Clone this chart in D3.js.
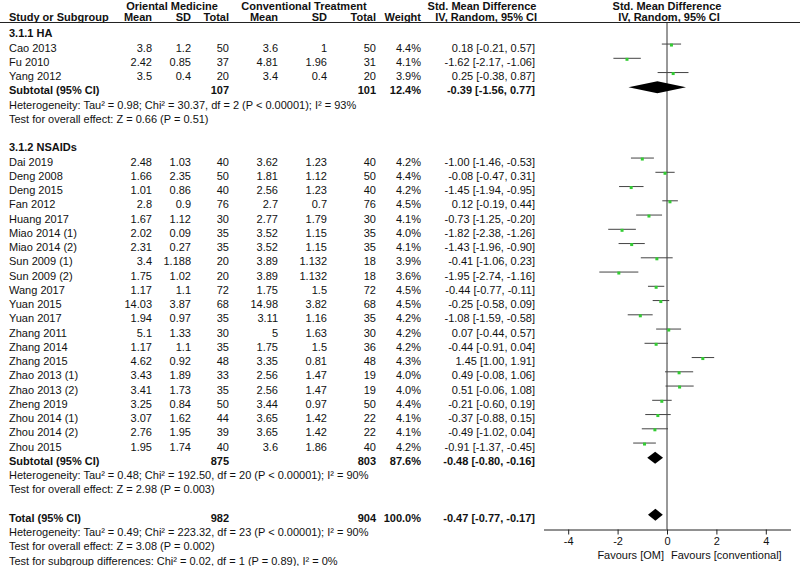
<!DOCTYPE html>
<html><head><meta charset="utf-8">
<script src="https://cdn.jsdelivr.net/npm/d3@7"></script>
<style>
body{margin:0;background:#fff;}
svg text{font-family:"Liberation Sans",Arial,sans-serif;font-size:11px;fill:#111;}
</style></head>
<body>
<svg id="c" width="800" height="566"></svg>
<script>
// ---------- DATA ----------
const haStudies = ["Cao 2013","Fu 2010","Yang 2012"];
const haOmMean = [3.8,2.42,3.5];
const haOmSD = [1.2,0.85,0.4];
const haOmN = [50,37,20];
const haCvMean = [3.6,4.81,3.4];
const haCvSD = [1,1.96,0.4];
const haCvN = [50,31,20];
const haWeight = [4.4,4.1,3.9];
const haSMD = [0.18,-1.62,0.25];
const haLo = [-0.21,-2.17,-0.38];
const haHi = [0.57,-1.06,0.87];

const nsStudies = ["Dai 2019","Deng 2008","Deng 2015","Fan 2012","Huang 2017","Miao 2014 (1)","Miao 2014 (2)","Sun 2009 (1)","Sun 2009 (2)","Wang 2017","Yuan 2015","Yuan 2017","Zhang 2011","Zhang 2014","Zhang 2015","Zhao 2013 (1)","Zhao 2013 (2)","Zheng 2019","Zhou 2014 (1)","Zhou 2014 (2)","Zhou 2015"];
const nsOmMean = [2.48,1.66,1.01,2.8,1.67,2.02,2.31,3.4,1.75,1.17,14.03,1.94,5.1,1.17,4.62,3.43,3.41,3.25,3.07,2.76,1.95];
const nsOmSD = [1.03,2.35,0.86,0.9,1.12,0.09,0.27,1.188,1.02,1.1,3.87,0.97,1.33,1.1,0.92,1.89,1.73,0.84,1.62,1.95,1.74];
const nsOmN = [40,50,40,76,30,35,35,20,20,72,68,35,30,35,48,33,35,50,44,39,40];
const nsCvMean = [3.62,1.81,2.56,2.7,2.77,3.52,3.52,3.89,3.89,1.75,14.98,3.11,5,1.75,3.35,2.56,2.56,3.44,3.65,3.65,3.6];
const nsCvSD = [1.23,1.12,1.23,0.7,1.79,1.15,1.15,1.132,1.132,1.5,3.82,1.16,1.63,1.5,0.81,1.47,1.47,0.97,1.42,1.42,1.86];
const nsCvN = [40,50,40,76,30,35,35,18,18,72,68,35,30,36,48,19,19,50,22,22,40];
const nsWeight = [4.2,4.4,4.2,4.5,4.1,4.0,4.1,3.9,3.6,4.5,4.5,4.2,4.2,4.2,4.3,4.0,4.0,4.4,4.1,4.1,4.2];
const nsSMD = [-1.00,-0.08,-1.45,0.12,-0.73,-1.82,-1.43,-0.41,-1.95,-0.44,-0.25,-1.08,0.07,-0.44,1.45,0.49,0.51,-0.21,-0.37,-0.49,-0.91];
const nsLo = [-1.46,-0.47,-1.94,-0.19,-1.25,-2.38,-1.96,-1.06,-2.74,-0.77,-0.58,-1.59,-0.44,-0.91,1.00,-0.08,-0.06,-0.60,-0.88,-1.02,-1.37];
const nsHi = [-0.53,0.31,-0.95,0.44,-0.20,-1.26,-0.90,0.23,-1.16,-0.11,0.09,-0.58,0.57,0.04,1.91,1.06,1.08,0.19,0.15,0.04,-0.45];

const subLabels = ["Subtotal (95% CI)","Subtotal (95% CI)","Total (95% CI)"];
const subOmN = [107,875,982];
const subCvN = [101,803,904];
const subWeight = [12.4,87.6,100.0];
const subSMD = [-0.39,-0.48,-0.47];
const subLo = [-1.56,-0.80,-0.77];
const subHi = [0.77,-0.16,-0.17];

const groupLabels = ["3.1.1 HA","3.1.2 NSAIDs"];
const hetText = [
 "Heterogeneity: Tau² = 0.98; Chi² = 30.37, df = 2 (P < 0.00001); I² = 93%",
 "Heterogeneity: Tau² = 0.48; Chi² = 192.50, df = 20 (P < 0.00001); I² = 90%",
 "Heterogeneity: Tau² = 0.49; Chi² = 223.32, df = 23 (P < 0.00001); I² = 90%"];
const effectText = [
 "Test for overall effect: Z = 0.66 (P = 0.51)",
 "Test for overall effect: Z = 2.98 (P = 0.003)",
 "Test for overall effect: Z = 3.08 (P = 0.002)"];
const subgroupText = "Test for subgroup differences: Chi² = 0.02, df = 1 (P = 0.89), I² = 0%";
const axisTicks = [-4,-2,0,2,4];
const favourLeft = "Favours [OM]";
const favourRight = "Favours [conventional]";

// ---------- LAYOUT ----------
const svg = d3.select("#c");
const rowC = i => 33.3 + i*14.25;         // text centre
const base = i => rowC(i) + 4;             // baseline
const markY = i => rowC(i) - 3.5;          // plot mark y
const x = d3.scaleLinear().domain([-5,5]).range([543.5,790.5]);
const cols = {omMean:152, omSD:191, omN:229, cvMean:278, cvSD:327, cvN:376, w:421, ci:535};
const leftX = 9;
const fmt2 = v => v.toFixed(2);
const ciStr = (m,l,h) => `${fmt2(m)} [${fmt2(l)}, ${fmt2(h)}]`;

function txt(xp, y, s, anchor, bold){
  svg.append("text").attr("x",xp).attr("y",y).attr("text-anchor",anchor||"start")
    .style("font-weight",bold?"bold":"normal").text(s);
}

// headers
txt(172, 9.5, "Oriental Medicine", "middle", true);
txt(304, 9.5, "Conventional Treatment", "middle", true);
txt(482, 9.5, "Std. Mean Difference", "middle", true);
txt(667, 9.5, "Std. Mean Difference", "middle", true);
txt(leftX, 21, "Study or Subgroup", "start", true);
txt(cols.omMean, 21, "Mean", "end", true);
txt(cols.omSD, 21, "SD", "end", true);
txt(cols.omN, 21, "Total", "end", true);
txt(cols.cvMean, 21, "Mean", "end", true);
txt(cols.cvSD, 21, "SD", "end", true);
txt(cols.cvN, 21, "Total", "end", true);
txt(cols.w, 21, "Weight", "end", true);
txt(537, 21, "IV, Random, 95% CI", "end", true);
txt(669, 21, "IV, Random, 95% CI", "middle", true);
svg.append("line").attr("x1",0).attr("x2",800).attr("y1",22.5).attr("y2",22.5)
  .attr("stroke","#222").attr("stroke-width",1);

// zero line
svg.append("line").attr("x1",x(0)).attr("x2",x(0)).attr("y1",23).attr("y2",529.5)
  .attr("stroke","#333").attr("stroke-width",1);

function studyRows(startRow, names, om, omsd, omn, cv, cvsd, cvn, w, smd, lo, hi){
  names.forEach((n,k)=>{
    const r = startRow + k, b = base(r);
    txt(leftX, b, n);
    txt(cols.omMean, b, String(om[k]), "end");
    txt(cols.omSD, b, String(omsd[k]), "end");
    txt(cols.omN, b, String(omn[k]), "end");
    txt(cols.cvMean, b, String(cv[k]), "end");
    txt(cols.cvSD, b, String(cvsd[k]), "end");
    txt(cols.cvN, b, String(cvn[k]), "end");
    txt(cols.w, b, w[k].toFixed(1)+"%", "end");
    txt(cols.ci, b, ciStr(smd[k],lo[k],hi[k]), "end");
    const my = markY(r);
    svg.append("line").attr("x1",x(lo[k])).attr("x2",x(hi[k])).attr("y1",my).attr("y2",my)
      .attr("stroke","#444").attr("stroke-width",1);
    svg.append("rect").attr("x",x(smd[k])-1.5).attr("y",my-0.5).attr("width",3).attr("height",3)
      .attr("fill","#33cc33");
  });
}
function subRow(r, j){
  const b = base(r);
  txt(leftX, b, subLabels[j], "start", true);
  txt(cols.omN, b, String(subOmN[j]), "end", true);
  txt(cols.cvN, b, String(subCvN[j]), "end", true);
  txt(cols.w, b, subWeight[j].toFixed(1)+"%", "end", true);
  txt(cols.ci, b, ciStr(subSMD[j],subLo[j],subHi[j]), "end", true);
  const my = markY(r)+0.5, h = 6;
  const pts = [[x(subLo[j]),my],[x(subSMD[j]),my-h],[x(subHi[j]),my],[x(subSMD[j]),my+h]];
  svg.append("polygon").attr("points",pts.map(p=>p.join(",")).join(" ")).attr("fill","#000");
}

txt(leftX, base(0), groupLabels[0], "start", true);
studyRows(1, haStudies, haOmMean, haOmSD, haOmN, haCvMean, haCvSD, haCvN, haWeight, haSMD, haLo, haHi);
subRow(4, 0);
txt(leftX, base(5), hetText[0]);
txt(leftX, base(6), effectText[0]);

txt(leftX, base(8), groupLabels[1], "start", true);
studyRows(9, nsStudies, nsOmMean, nsOmSD, nsOmN, nsCvMean, nsCvSD, nsCvN, nsWeight, nsSMD, nsLo, nsHi);
subRow(30, 1);
txt(leftX, base(31), hetText[1]);
txt(leftX, base(32), effectText[1]);

subRow(34, 2);
txt(leftX, base(35), hetText[2]);
txt(leftX, base(36), effectText[2]);
txt(leftX, base(37), subgroupText);

// axis
const ax = svg.append("g").attr("transform","translate(0,529.5)")
  .call(d3.axisBottom(x).tickValues(axisTicks).tickSize(5).tickSizeOuter(0).tickFormat(d=>String(d)));
ax.select(".domain").attr("stroke","#222");
ax.selectAll(".tick line").attr("stroke","#222");
ax.selectAll(".tick text").style("font-size","11px").style("font-family","Liberation Sans, Arial, sans-serif").attr("fill","#111");
txt(x(0)-3, 559, favourLeft, "end");
txt(x(0)+4, 559, favourRight, "start");
</script>
</body></html>
